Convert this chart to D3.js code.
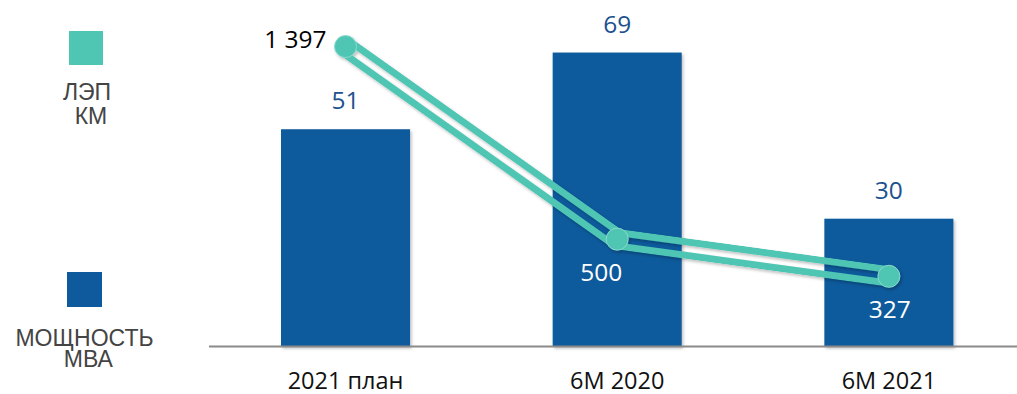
<!DOCTYPE html>
<html>
<head>
<meta charset="utf-8">
<script src="https://cdn.jsdelivr.net/npm/d3@7"></script>
<style>
  html, body { margin: 0; padding: 0; background: #fff; }
  svg { display: block; }
</style>
</head>
<body>
<svg id="chart" width="1017" height="394"></svg>
<script>
const categories = ["2021 план", "6M 2020", "6M 2021"];
const powerMVA = [51, 69, 30];
const lineKm = [1397, 500, 327];
const legendLine = ["ЛЭП", "КМ"];
const legendBar = ["МОЩНОСТЬ", "МВА"];
const lineLabels = ["1 397", "500", "327"];

const W = 1017, H = 394;
const svg = d3.select("#chart");
const BLUE = "#0E5A9C";
const TEAL = "#4FC6B3";
const baseY = 346.5;

const x = d3.scaleBand().domain(categories).range([209.7, 1024.7]).paddingInner(0.525).paddingOuter(0.2625);
const y = d3.scaleLinear().domain([0, 80]).range([baseY, baseY - 4.26 * 80]);
const y2 = d3.scaleLinear().domain([0, 1600]).range([baseY, baseY - 0.2147 * 1600]);

const defs = svg.append("defs");
const sh = defs.append("filter").attr("id", "shadow").attr("x", "-20%").attr("y", "-20%").attr("width", "140%").attr("height", "140%");
sh.append("feDropShadow").attr("dx", 1.5).attr("dy", 2).attr("stdDeviation", 1.5).attr("flood-color", "#000").attr("flood-opacity", 0.25);

// bars
svg.append("g").selectAll("rect").data(categories).join("rect")
  .attr("x", d => x(d))
  .attr("y", (d, i) => y(powerMVA[i]))
  .attr("width", x.bandwidth())
  .attr("height", (d, i) => y(0) - y(powerMVA[i]))
  .attr("fill", BLUE)
  .attr("filter", "url(#shadow)");

// axis
const axis = svg.append("g").attr("transform", `translate(0,${baseY})`)
  .call(d3.axisBottom(x).tickSize(0).tickPadding(0));
axis.select(".domain").remove();
svg.append("line").attr("x1", 209).attr("x2", W).attr("y1", baseY).attr("y2", baseY)
  .attr("stroke", "#8a8a8a").attr("stroke-width", 2);
axis.selectAll(".tick text")
  .attr("y", 42).attr("dy", 0)
  .attr("font-family", "Open Sans, sans-serif").attr("font-size", 23.5).attr("fill", "#111");

// bar value labels
svg.append("g").selectAll("text").data(categories).join("text")
  .attr("x", d => x(d) + x.bandwidth() / 2)
  .attr("y", (d, i) => y(powerMVA[i]) - 20)
  .attr("text-anchor", "middle")
  .attr("font-family", "Open Sans, sans-serif").attr("font-size", 24.5)
  .attr("fill", "#21508F")
  .text((d, i) => powerMVA[i]);

// hollow line
const pts = categories.map((c, i) => [x(c) + x.bandwidth() / 2, y2(lineKm[i])]);
const lineGen = d3.line();
const mask = defs.append("mask").attr("id", "hollow").attr("maskUnits", "userSpaceOnUse")
  .attr("x", 0).attr("y", 0).attr("width", W).attr("height", H);
mask.append("rect").attr("width", W).attr("height", H).attr("fill", "black");
mask.append("path").attr("d", lineGen(pts)).attr("fill", "none").attr("stroke", "white")
  .attr("stroke-width", 20.5).attr("stroke-linejoin", "round");
mask.append("path").attr("d", lineGen(pts)).attr("fill", "none").attr("stroke", "black")
  .attr("stroke-width", 6.5).attr("stroke-linejoin", "miter");

const lg = svg.append("g").attr("filter", "url(#shadow)");
lg.append("path").attr("d", lineGen(pts)).attr("fill", "none").attr("stroke", TEAL)
  .attr("stroke-width", 20.5).attr("stroke-linejoin", "round").attr("mask", "url(#hollow)");
lg.selectAll("circle").data(pts).join("circle")
  .attr("cx", d => d[0]).attr("cy", d => d[1]).attr("r", 11)
  .attr("fill", TEAL).attr("stroke", "#8ad9cc").attr("stroke-width", 1);

// line labels
const lineLabelPos = [
  {dx: -19, dy: 1, anchor: "end", color: "#000"},
  {dx: -16, dy: 41.5, anchor: "middle", color: "#fff"},
  {dx: 1, dy: 42, anchor: "middle", color: "#fff"}
];
svg.append("g").selectAll("text").data(pts).join("text")
  .attr("x", (d, i) => d[0] + lineLabelPos[i].dx)
  .attr("y", (d, i) => d[1] + lineLabelPos[i].dy)
  .attr("text-anchor", (d, i) => lineLabelPos[i].anchor)
  .attr("font-family", "Open Sans, sans-serif").attr("font-size", 24.5)
  .attr("fill", (d, i) => lineLabelPos[i].color)
  .text((d, i) => lineLabels[i]);

// legend
const leg = svg.append("g");
leg.append("rect").attr("x", 69).attr("y", 31).attr("width", 34).attr("height", 34).attr("fill", TEAL);
leg.append("rect").attr("x", 67).attr("y", 272).attr("width", 35).attr("height", 35).attr("fill", BLUE);
const legTextStyle = sel => sel.attr("font-family", "Liberation Sans, Arial, sans-serif")
  .attr("font-size", 23).attr("fill", "#444").attr("text-anchor", "middle");
leg.append("text").attr("x", 87).attr("y", 100).text(legendLine[0]).call(legTextStyle);
leg.append("text").attr("x", 91).attr("y", 124).text(legendLine[1]).call(legTextStyle);
leg.append("text").attr("x", 84.5).attr("y", 345.5).text(legendBar[0]).call(legTextStyle);
leg.append("text").attr("x", 88.3).attr("y", 367).text(legendBar[1]).call(legTextStyle);
</script>
</body>
</html>
